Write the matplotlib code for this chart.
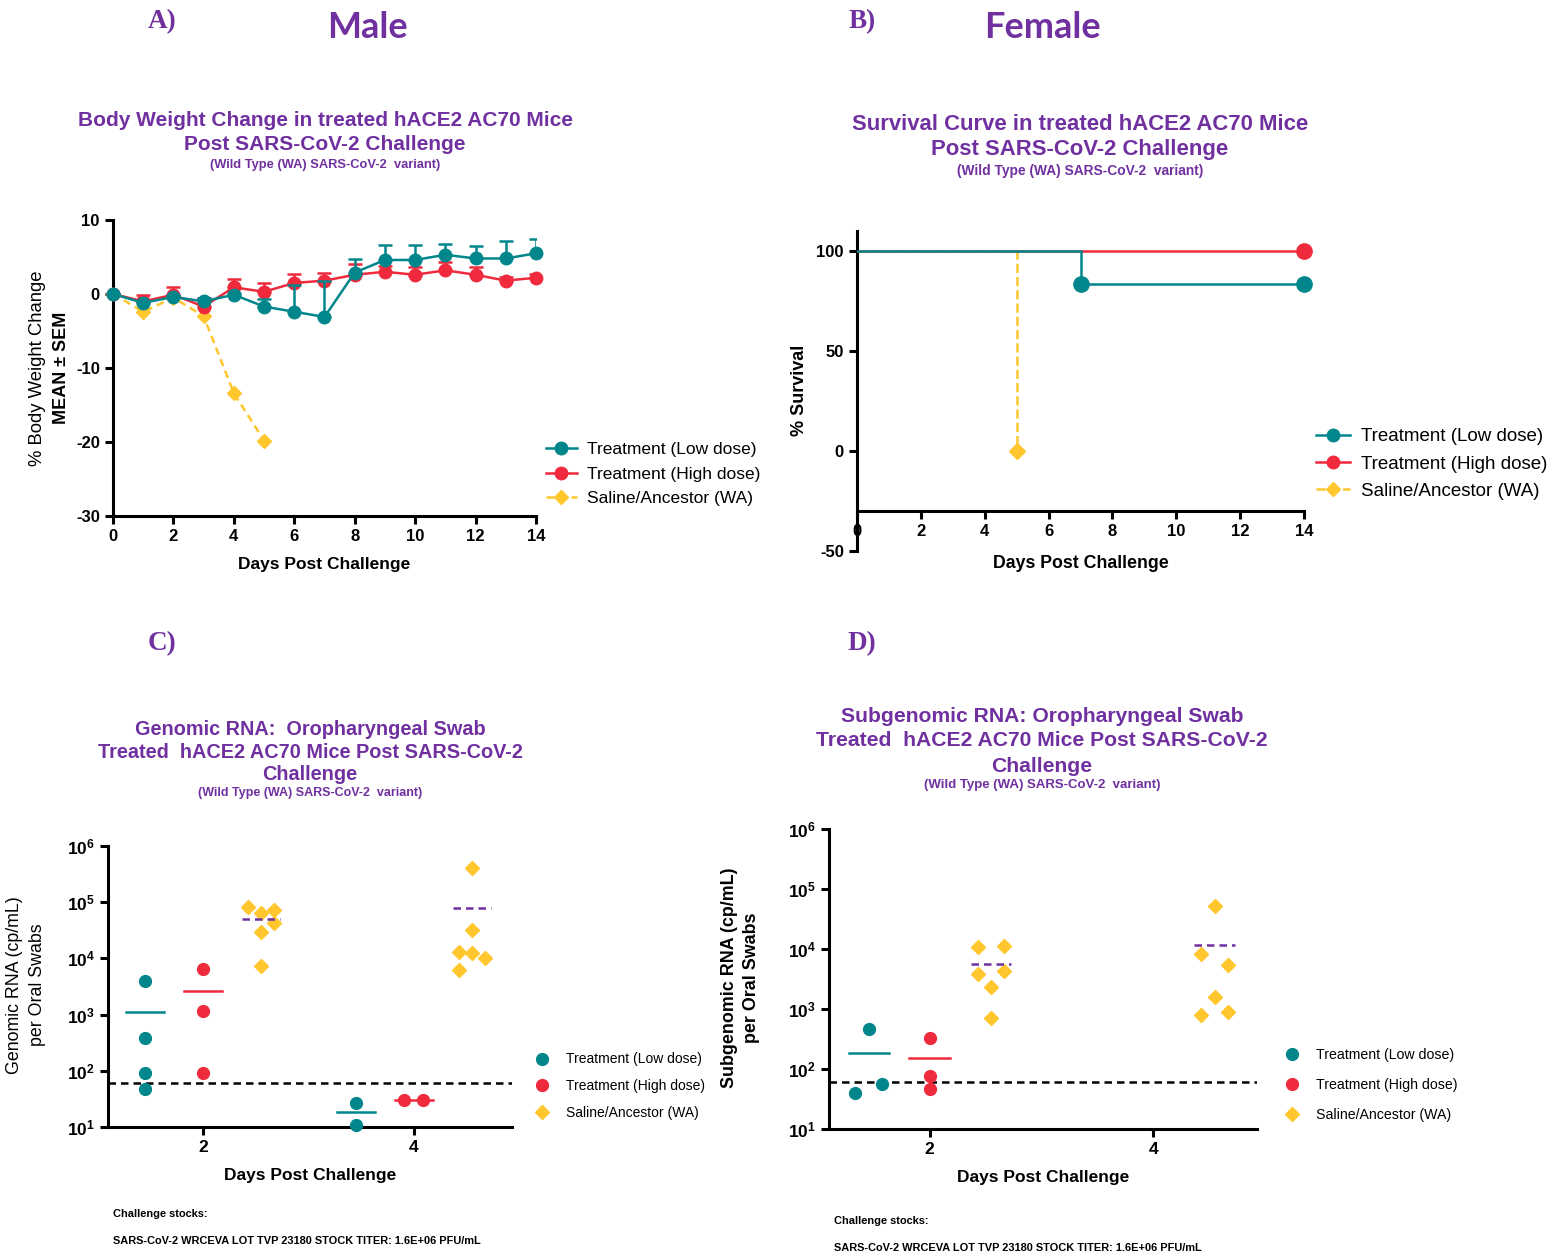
import numpy as np
import matplotlib
matplotlib.use("Agg")
import matplotlib.pyplot as plt

plt.rcParams['font.family'] = ['Liberation Sans', 'DejaVu Sans']
plt.rcParams['axes.unicode_minus'] = False
plt.rcParams['mathtext.fontset'] = 'custom'
plt.rcParams['mathtext.rm'] = 'Liberation Sans'
plt.rcParams['mathtext.bf'] = 'Liberation Sans:bold'

# ---- data ----
days_bw = [0, 1, 2, 3, 4, 5, 6, 7, 8, 9, 10, 11, 12, 13, 14]
bw_low = [0, -1.2, -0.4, -1.0, -0.1, -1.7, -2.4, -3.1, 2.9, 4.6, 4.6, 5.3, 4.8, 4.8, 5.5]
bw_low_sem = [0, 0.3, 0.3, 0.4, 0.3, 1.0, 3.6, 4.9, 1.8, 2.0, 2.0, 1.4, 1.7, 2.4, 2.0]
bw_high = [0, -1.0, -0.1, -1.7, 0.9, 0.3, 1.5, 1.8, 2.6, 3.0, 2.6, 3.2, 2.6, 1.8, 2.2]
bw_high_sem = [0, 0.8, 1.0, 1.2, 1.1, 1.2, 1.2, 1.1, 1.4, 0.8, 1.0, 1.1, 1.0, 0.5, 0.5]
days_sal = [0, 1, 2, 3, 4, 5]
bw_sal = [0, -2.4, -0.5, -3.0, -13.4, -19.8]

surv_low_days = [0, 7, 14]
surv_low = [100, 83.3, 83.3]
surv_high_days = [0, 14]
surv_high = [100, 100]
surv_sal_days = [0, 5]
surv_sal = [100, 0]

rna_days = [2, 4]
groups = ['Treatment (Low dose)', 'Treatment (High dose)', 'Saline/Ancestor (WA)']

gen_low = [[3900, 390, 90, 48], [27, 10.7]]
gen_high = [[6600, 1180, 93], [30, 30]]
gen_sal = [[83000, 63000, 73000, 30000, 42000, 7400],
           [400000, 32000, 13000, 12300, 10000, 6300]]

sub_low = [[460, 40, 56], []]
sub_high = [[334, 77, 46], []]
sub_sal = [[11000, 11100, 3880, 4380, 2300, 700],
           [53000, 8300, 5400, 1580, 800, 900]]

lod = 60

# ---- style ----
TEAL = '#00868B'
RED = '#EF2A3C'
YEL = '#FFC62E'
PURP = '#7030A0'
W, H = 1559, 1257

# jitter layouts inside each group (x offsets)
gen_jit = {
    'low': [[0, 0, 0, 0], [0, 0]],
    'high': [[0, 0, 0], [-0.09, 0.09]],
    'sal': [[-0.12, 0, 0.12, 0, 0.12, 0], [0, 0, -0.12, 0, 0.12, -0.12]],
}
sub_jit = {
    'low': [[0, -0.12, 0.12], []],
    'high': [[0, 0, 0], []],
    'sal': [[-0.12, 0.12, -0.12, 0.12, 0, 0], [0, -0.12, 0.12, 0, -0.12, 0.12]],
}
offsets = {'low': -0.545, 'high': 0.0, 'sal': 0.55}


def fx(px):
    return px / W


def fy(py):
    return 1 - py / H


def axes_px(left, top, right, bottom):
    return fig.add_axes([fx(left), fy(bottom), (right - left) / W, (bottom - top) / H])


def style_axes(ax, size=12):
    for s in ['top', 'right']:
        ax.spines[s].set_visible(False)
    for s in ['left', 'bottom']:
        ax.spines[s].set_linewidth(2.2)
    ax.tick_params(width=2.2, length=6, labelsize=size)
    for lab in ax.get_xticklabels() + ax.get_yticklabels():
        lab.set_fontweight('bold')


fig = plt.figure(figsize=(W / 100, H / 100), dpi=100)

# ---- header texts ----
for x, y, s in [(162, 22, 'A)'), (862, 22, 'B)'), (162, 644, 'C)'), (862, 644, 'D)')]:
    fig.text(fx(x), fy(y), s, ha='center', va='center', color=PURP, fontsize=19.5,
             fontweight='bold', family='Liberation Serif')
fig.text(fx(367), fy(28), 'Male', ha='center', va='center', color=PURP, fontsize=26,
         fontweight='bold', family='Lato')
fig.text(fx(1042), fy(28), 'Female', ha='center', va='center', color=PURP, fontsize=26,
         fontweight='bold', family='Lato')


def title_block(xc, ys, lines, sub_y, size, sub_size):
    for y, s in zip(ys, lines):
        fig.text(fx(xc), fy(y), s, ha='center', va='center', color=PURP, fontsize=size,
                 fontweight='bold')
    fig.text(fx(xc), fy(sub_y), '(Wild Type (WA) SARS-CoV-2  variant)', ha='center',
             va='center', color=PURP, fontsize=sub_size, fontweight='bold')


title_block(325, [121, 145], ['Body Weight Change in treated hACE2 AC70 Mice',
                              'Post SARS-CoV-2 Challenge'], 165, 15, 9.3)
title_block(1080, [124, 149], ['Survival Curve in treated hACE2 AC70 Mice',
                               'Post SARS-CoV-2 Challenge'], 171, 15.9, 9.9)
title_block(310, [729, 752, 775], ['Genomic RNA:  Oropharyngeal Swab',
                                   'Treated  hACE2 AC70 Mice Post SARS-CoV-2',
                                   'Challenge'], 793, 14.3, 9.0)
title_block(1042, [717, 741, 766], ['Subgenomic RNA: Oropharyngeal Swab',
                                    'Treated  hACE2 AC70 Mice Post SARS-CoV-2',
                                    'Challenge'], 785, 15.2, 9.5)

# ---- A: body weight ----
axA = axes_px(113, 220, 536, 516)
axA.plot(days_sal, bw_sal, color=YEL, ls='--', lw=1.8, marker='D', ms=7,
         label=groups[2], zorder=2, clip_on=False, dashes=(3, 2))
axA.errorbar(days_bw, bw_high, yerr=[np.zeros(len(bw_high)), bw_high_sem], fmt='none',
             ecolor=RED, elinewidth=1.8, capsize=5, capthick=1.8, zorder=3)
axA.plot(days_bw, bw_high, color=RED, lw=1.8, marker='o', ms=9, label=groups[1],
         zorder=3, clip_on=False)
axA.errorbar(days_bw, bw_low, yerr=[np.zeros(len(bw_low)), bw_low_sem], fmt='none',
             ecolor=TEAL, elinewidth=1.8, capsize=5, capthick=1.8, zorder=4)
axA.plot(days_bw, bw_low, color=TEAL, lw=1.8, marker='o', ms=9, label=groups[0],
         zorder=4, clip_on=False)
axA.set_xlim(0, 14)
axA.set_ylim(-30, 10)
axA.set_xticks(range(0, 15, 2))
axA.set_yticks([-30, -20, -10, 0, 10])
style_axes(axA)
axA.set_xlabel('Days Post Challenge', fontsize=12.5, fontweight='bold', labelpad=9)
fig.text(fx(38), fy(368), '% Body Weight Change', rotation=90, ha='center', va='center',
         fontsize=13.3)
fig.text(fx(61), fy(368), 'MEAN \u00b1 SEM', rotation=90, ha='center', va='center',
         fontsize=13, fontweight='bold')
h, l = axA.get_legend_handles_labels()
axA.legend(h[::-1], l[::-1], loc='center left', bbox_to_anchor=(fx(530), fy(474)),
           bbox_transform=fig.transFigure, frameon=False, fontsize=12.5,
           handlelength=1.8, labelspacing=0.55, handletextpad=0.6)

# ---- B: survival ----
axB = axes_px(857, 231, 1304, 551)
axB.step(surv_sal_days, surv_sal, where='post', color=YEL, ls='--', lw=1.8, zorder=2)
axB.plot(surv_sal_days[1:], surv_sal[1:], ls='none', marker='D', ms=8, color=YEL,
         zorder=2, clip_on=False)
axB.step(surv_high_days, surv_high, where='post', color=RED, lw=1.8, zorder=3)
axB.plot(surv_high_days[1:], surv_high[1:], ls='none', marker='o', ms=11, color=RED,
         zorder=3, clip_on=False)
axB.step(surv_low_days, surv_low, where='post', color=TEAL, lw=1.8, zorder=4)
axB.plot(surv_low_days[1:], surv_low[1:], ls='none', marker='o', ms=11, color=TEAL,
         zorder=4, clip_on=False)
axB.set_xlim(0, 14)
axB.set_ylim(-50, 110)
axB.spines['bottom'].set_position(('data', -30))
axB.spines['left'].set_bounds(-50, 110)
axB.set_xticks(range(0, 15, 2))
axB.set_yticks([-50, 0, 50, 100])
style_axes(axB)
axB.set_xlabel('Days Post Challenge', fontsize=12.8, fontweight='bold')
axB.xaxis.set_label_coords(0.5, -0.012)
fig.text(fx(800), fy(390), '% Survival', rotation=90, ha='center', va='center',
         fontsize=13, fontweight='bold')
leg_handles = [
    plt.Line2D([], [], color=TEAL, lw=1.8, marker='o', ms=9),
    plt.Line2D([], [], color=RED, lw=1.8, marker='o', ms=9),
    plt.Line2D([], [], color=YEL, lw=1.8, ls='--', marker='D', ms=7),
]
axB.legend(leg_handles, groups, loc='center left', bbox_to_anchor=(fx(1299), fy(464)),
           bbox_transform=fig.transFigure, frameon=False, fontsize=13.5,
           handlelength=1.8, labelspacing=0.55, handletextpad=0.6)


# ---- C / D: RNA scatter ----
def rna_panel(ax, low, high, sal, jit):
    sets = [('low', low, TEAL, 'o', 8.5), ('high', high, RED, 'o', 8.5),
            ('sal', sal, YEL, 'D', 7.5)]
    for key, vals, col, mk, ms in sets:
        for i, d in enumerate(rna_days):
            v = vals[i]
            if len(v) == 0:
                continue
            c = d + offsets[key]
            xs = [c + j for j in jit[key][i]]
            ax.plot(xs, v, ls='none', marker=mk, ms=ms, color=col, zorder=3,
                    label=groups[['low', 'high', 'sal'].index(key)] if i == 0 else None,
                    clip_on=False)
            m = np.mean(v)
            if key == 'sal':
                ax.plot([c - 0.18, c + 0.18], [m, m], color=PURP, lw=1.8, ls='--',
                        dashes=(3, 2), zorder=4)
            else:
                ax.plot([c - 0.18, c + 0.18], [m, m], color=col, lw=1.8, zorder=2)
    ax.axhline(lod, color='black', ls='--', lw=1.8, dashes=(3, 2), zorder=1)
    ax.set_yscale('log')
    ax.set_ylim(10, 1e6)
    ax.set_xlim(1.1, 4.93)
    ax.set_xticks(rna_days)
    ax.set_yticks([1e1, 1e2, 1e3, 1e4, 1e5, 1e6])
    ax.yaxis.set_minor_locator(matplotlib.ticker.NullLocator())
    ax.set_yticklabels([r'$\mathbf{10^{%d}}$' % k for k in range(1, 7)])
    style_axes(ax, 12.5)
    ax.set_xlabel('Days Post Challenge', fontsize=12.5, fontweight='bold', labelpad=9)


axC = axes_px(108, 846, 512, 1127)
rna_panel(axC, gen_low, gen_high, gen_sal, gen_jit)
fig.text(fx(15), fy(985), 'Genomic RNA (cp/mL)', rotation=90, ha='center', va='center',
         fontsize=12.8)
fig.text(fx(37), fy(985), 'per Oral Swabs', rotation=90, ha='center', va='center',
         fontsize=12.8)
axC.legend(loc='center left', bbox_to_anchor=(fx(523), fy(1086)),
           bbox_transform=fig.transFigure, frameon=False, fontsize=10,
           handlelength=1.0, labelspacing=0.9, handletextpad=1.2)

axD = axes_px(829, 829, 1257, 1129)
rna_panel(axD, sub_low, sub_high, sub_sal, sub_jit)
fig.text(fx(729), fy(978), 'Subgenomic RNA (cp/mL)', rotation=90, ha='center',
         va='center', fontsize=12.9, fontweight='bold')
fig.text(fx(751), fy(978), 'per Oral Swabs', rotation=90, ha='center', va='center',
         fontsize=12.9, fontweight='bold')
axD.legend(loc='center left', bbox_to_anchor=(fx(1272), fy(1085)),
           bbox_transform=fig.transFigure, frameon=False, fontsize=10.2,
           handlelength=1.0, labelspacing=1.1, handletextpad=1.2)

# ---- footnotes ----
for x, y0 in [(113, 1214), (834, 1221)]:
    fig.text(fx(x), fy(y0), 'Challenge stocks:', ha='left', va='center', fontsize=7.9,
             fontweight='bold')
    fig.text(fx(x), fy(y0 + 27), 'SARS-CoV-2 WRCEVA LOT TVP 23180 STOCK TITER: 1.6E+06 PFU/mL',
             ha='left', va='center', fontsize=7.9, fontweight='bold')

fig.savefig('out.png', dpi=100)
